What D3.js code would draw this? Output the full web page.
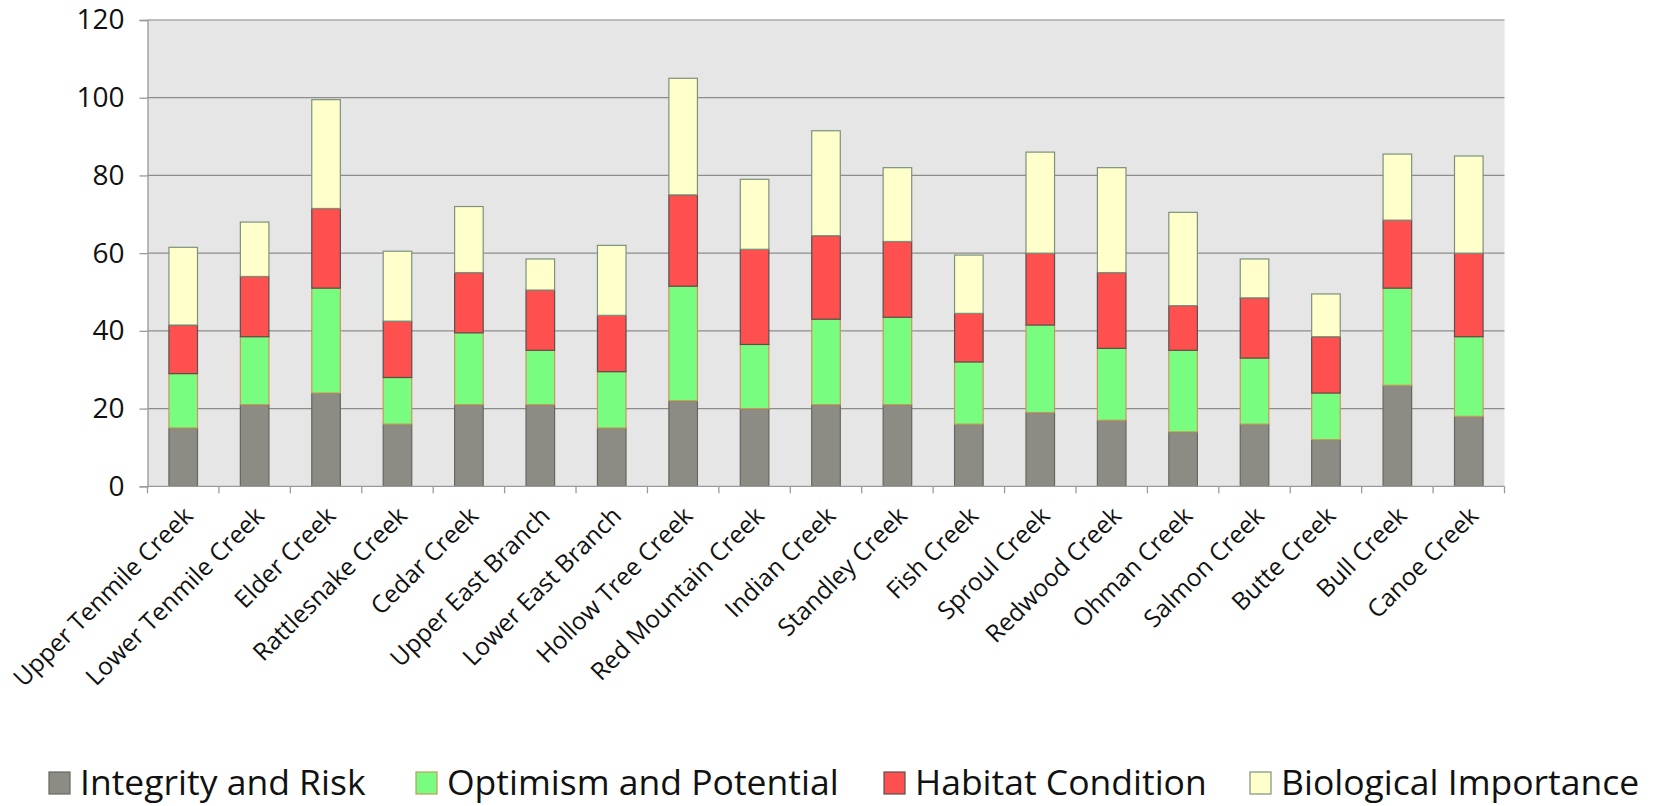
<!DOCTYPE html>
<html>
<head>
<meta charset="utf-8">
<script src="https://cdn.jsdelivr.net/npm/d3@7"></script>
<style>
  html, body { margin: 0; padding: 0; background: #fff; }
  svg { display: block; font-family: "Open Sans", Lato, sans-serif; }
</style>
</head>
<body>
<svg id="chart" width="1661" height="806"></svg>
<script>
// Stream scores by criterion (stacked)
const creeks = [
  "Upper Tenmile Creek", "Lower Tenmile Creek", "Elder Creek", "Rattlesnake Creek",
  "Cedar Creek", "Upper East Branch", "Lower East Branch", "Hollow Tree Creek",
  "Red Mountain Creek", "Indian Creek", "Standley  Creek", "Fish Creek",
  "Sproul Creek", "Redwood Creek", "Ohman Creek", "Salmon Creek",
  "Butte Creek", "Bull Creek", "Canoe Creek"
];
const seriesNames = ["Integrity and Risk", "Optimism and Potential", "Habitat Condition", "Biological Importance"];
const integrity  = [15, 21, 24, 16, 21, 21, 15, 22, 20, 21, 21, 16, 19, 17, 14, 16, 12, 26, 18];
const optimism   = [14, 17.5, 27, 12, 18.5, 14, 14.5, 29.5, 16.5, 22, 22.5, 16, 22.5, 18.5, 21, 17, 12, 25, 20.5];
const habitat    = [12.5, 15.5, 20.5, 14.5, 15.5, 15.5, 14.5, 23.5, 24.5, 21.5, 19.5, 12.5, 18.5, 19.5, 11.5, 15.5, 14.5, 17.5, 21.5];
const biological = [20, 14, 28, 18, 17, 8, 18, 30, 18, 27, 19, 15, 26, 27, 24, 10, 11, 17, 25];
const yTicks = [0, 20, 40, 60, 80, 100, 120];

const fills   = ["#8c8c85", "#78fd80", "#ff5050", "#ffffcc"];
const strokes = ["#66665f", "#c49a5c", "#58504c", "#7c927c"];

const rows = creeks.map((c, i) => ({
  creek: c,
  [seriesNames[0]]: integrity[i],
  [seriesNames[1]]: optimism[i],
  [seriesNames[2]]: habitat[i],
  [seriesNames[3]]: biological[i]
}));
const stacked = d3.stack().keys(seriesNames)(rows);

const svg = d3.select("#chart");
const m = { left: 147.5, right: 1504.5, top: 20, bottom: 486.3 };

const x = d3.scaleBand().domain(creeks).range([m.left, m.right]).paddingInner(0.6).paddingOuter(0.3);
const xb = d3.scaleBand().domain(creeks).range([m.left, m.right]);
const y = d3.scaleLinear().domain([0, 120]).range([m.bottom, m.top]);

// plot area
svg.append("rect")
  .attr("x", m.left).attr("y", m.top)
  .attr("width", m.right - m.left).attr("height", m.bottom - m.top)
  .attr("fill", "#e6e6e6");

// gridlines
svg.append("g").selectAll("line").data(yTicks.filter(t => t > 0)).join("line")
  .attr("x1", m.left).attr("x2", m.right)
  .attr("y1", d => y(d)).attr("y2", d => y(d))
  .attr("stroke", d => d === 120 ? "#a8a8a8" : "#8c8c8c").attr("stroke-width", 1.3);

// bars
const layer = svg.append("g").selectAll("g").data(stacked).join("g")
  .attr("fill", (d, i) => fills[i]).attr("stroke", (d, i) => strokes[i]);
layer.selectAll("rect").data(d => d).join("rect")
  .attr("x", d => x(d.data.creek))
  .attr("width", x.bandwidth())
  .attr("y", d => y(d[1]))
  .attr("height", d => y(d[0]) - y(d[1]))
  .attr("stroke-width", 1.2);

// y axis
const yAxis = svg.append("g").attr("transform", `translate(${m.left},0)`)
  .call(d3.axisLeft(y).tickValues(yTicks).tickSize(8).tickPadding(15));
yAxis.select(".domain").attr("stroke", "#9a9a9a").attr("stroke-width", 1.3);
yAxis.selectAll(".tick line").attr("stroke", "#9a9a9a").attr("stroke-width", 1.3);
yAxis.selectAll(".tick text").attr("font-size", 28).attr("fill", "#111")
  .attr("font-family", "'Open Sans', sans-serif");

// x axis line and ticks at category boundaries
const xAxisG = svg.append("g");
xAxisG.append("line").attr("x1", m.left).attr("x2", m.right)
  .attr("y1", m.bottom).attr("y2", m.bottom).attr("stroke", "#9a9a9a").attr("stroke-width", 1.3);
const bounds = creeks.map(c => xb(c)).concat([m.right]);
xAxisG.selectAll("line.tk").data(bounds).join("line").attr("class", "tk")
  .attr("x1", d => d).attr("x2", d => d)
  .attr("y1", m.bottom).attr("y2", m.bottom + 7)
  .attr("stroke", "#9a9a9a").attr("stroke-width", 1.3);

// category labels
xAxisG.selectAll("text").data(creeks).join("text")
  .attr("transform", d => `translate(${xb(d) + xb.bandwidth() / 2 + 5},${m.bottom + 25}) rotate(-45)`)
  .attr("text-anchor", "end")
  .attr("dy", "0.35em")
  .attr("font-size", 24.5)
  .attr("fill", "#111")
  .text(d => d);

// legend
const legendX = [49, 416, 884, 1250];
const lg = svg.append("g").selectAll("g").data(seriesNames).join("g")
  .attr("transform", (d, i) => `translate(${legendX[i]},772)`);
lg.append("rect").attr("width", 21).attr("height", 22)
  .attr("fill", (d, i) => fills[i]).attr("stroke", (d, i) => strokes[i]).attr("stroke-width", 1.2);
lg.append("text").attr("x", 31).attr("y", 10).attr("dy", "0.36em")
  .attr("font-size", 35.5).attr("fill", "#111").text(d => d);
</script>
</body>
</html>
